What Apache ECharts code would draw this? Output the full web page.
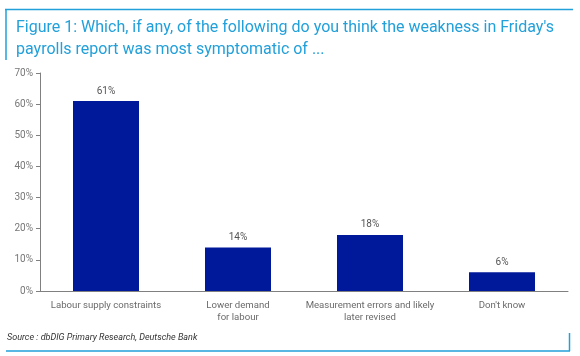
<!DOCTYPE html>
<html>
<head>
<meta charset="utf-8">
<script src="https://cdn.jsdelivr.net/npm/echarts@6/dist/echarts.min.js"></script>
<style>html,body{margin:0;padding:0;background:#fff}#c{width:580px;height:356px}</style>
</head>
<body>
<div id="c"></div>
<script>
const categories = ['Labour supply constraints', 'Lower demand\nfor labour', 'Measurement errors and likely\nlater revised', "Don't know"];
const values = [61, 14, 18, 6];
const yTicks = [0, 10, 20, 30, 40, 50, 60, 70];

const chart = echarts.init(document.getElementById('c'), null, {renderer: 'canvas'});
chart.setOption({
  animation: false,
  title: {
    text: "Figure 1: Which, if any, of the following do you think the weakness in Friday's\npayrolls report was most symptomatic of ...",
    left: 11, top: 12,
    textStyle: {color: '#22a0da', fontSize: 16, fontWeight: 'normal', fontFamily: 'Roboto', lineHeight: 22}
  },
  grid: {left: 40, right: 12, top: 73, bottom: 65},
  xAxis: {
    type: 'category', data: categories,
    axisLine: {lineStyle: {color: '#808080', width: 1}},
    axisTick: {show: false},
    axisLabel: {color: '#6a6a6a', fontSize: 9.6, fontFamily: 'Roboto', margin: 9, lineHeight: 12, interval: 0}
  },
  yAxis: {
    type: 'value', min: 0, max: 70, interval: 10,
    splitLine: {show: false},
    axisLine: {show: true, lineStyle: {color: '#808080'}},
    axisTick: {show: true, inside: false, length: 4, lineStyle: {color: '#808080'}},
    axisLabel: {color: '#777', fontSize: 10, fontFamily: 'Roboto', margin: 7, formatter: v => v + '%'}
  },
  series: [{
    type: 'bar', data: values, barWidth: '50%',
    itemStyle: {color: '#00199b'},
    label: {show: true, position: 'top', formatter: p => p.value + '%', color: '#555', fontSize: 10, fontFamily: 'Roboto', distance: 5}
  }],
  graphic: [
    {type: 'line', shape: {x1: 5, y1: 9.5, x2: 573, y2: 9.5}, style: {stroke: '#22a0da', lineWidth: 1.5}},
    {type: 'line', shape: {x1: 6, y1: 9, x2: 6, y2: 60}, style: {stroke: '#22a0da', lineWidth: 1.5}},
    {type: 'line', shape: {x1: 6, y1: 351, x2: 570, y2: 351}, style: {stroke: '#22a0da', lineWidth: 1.5}},
    {type: 'line', shape: {x1: 569.5, y1: 333, x2: 569.5, y2: 351}, style: {stroke: '#22a0da', lineWidth: 1.5}},
    {type: 'text', left: 7, top: 333, style: {text: 'Source : dbDIG Primary Research, Deutsche Bank', fill: '#333', fontSize: 9, fontStyle: 'italic', fontFamily: 'Roboto'}}
  ]
});
</script>
</body>
</html>
